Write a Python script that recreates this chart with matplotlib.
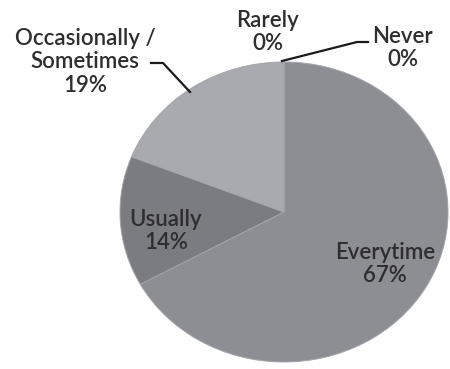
import matplotlib
matplotlib.use("Agg")
import matplotlib.pyplot as plt
from matplotlib.lines import Line2D

# Survey responses (percent of respondents)
categories = ["Everytime", "Usually", "Occasionally /\nSometimes", "Rarely", "Never"]
shares = [67, 14, 19, 0, 0]
colors = ["#8d8e94", "#7b7c82", "#a9aaaf", "#b4b5b9", "#9a9ba0"]

W, H = 450, 369
fig = plt.figure(figsize=(W / 100, H / 100), dpi=100)
fig.patch.set_facecolor("white")

# pie box in pixels: centre (284, 212), radii 164 x 150
cx, cy, rx, ry = 284, 212, 164, 150
ax = fig.add_axes([(cx - rx) / W, (H - (cy + ry)) / H, 2 * rx / W, 2 * ry / H])
ax.pie(shares, colors=colors, startangle=90, counterclock=False, radius=1,
       wedgeprops=dict(edgecolor="#a4a5a9", linewidth=0.7))
ax.set_xlim(-1, 1)
ax.set_ylim(-1, 1)
ax.set_aspect("auto")
ax.axis("off")


def px(x, y):
    return x / W, 1 - y / H


font = dict(family="Lato", fontsize=16, fontweight="semibold", color="#2e2e30",
            ha="center", va="center", linespacing=1.17)

label_pos = {
    "Everytime": (385, 264),
    "Usually": (166, 231),
    "Occasionally /\nSometimes": (85, 62),
    "Rarely": (268, 32),
    "Never": (403, 48),
}
for name, val in zip(categories, shares):
    x, y = label_pos[name]
    fig.text(*px(x, y), f"{name}\n{val}%", **font)

# leader lines
for xs, ys in [([282, 357, 368], [61, 42, 42]),
               ([151, 163, 190], [63, 63, 92])]:
    pts = [px(a, b) for a, b in zip(xs, ys)]
    fig.add_artist(Line2D([p[0] for p in pts], [p[1] for p in pts],
                          transform=fig.transFigure, color="#1a1a1a", lw=1.6))

fig.savefig("out.png", dpi=100)
